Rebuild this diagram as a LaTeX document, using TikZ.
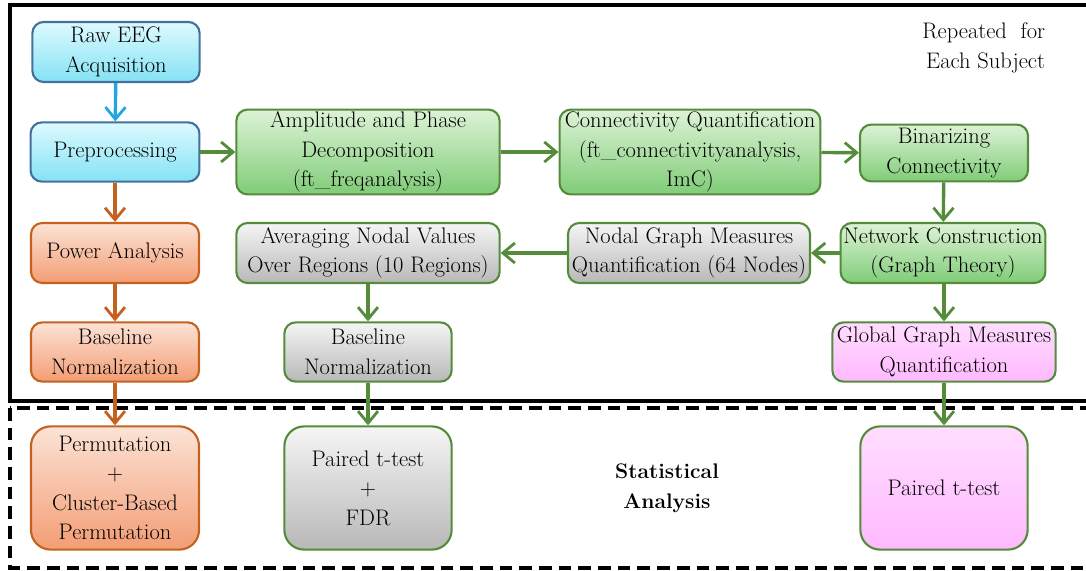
\documentclass[tikz,border=0pt]{standalone}
\usetikzlibrary{positioning,shapes,arrows.meta}

\definecolor{cyanline}{HTML}{41719C}
\definecolor{cyantop}{HTML}{DDFAFF}
\definecolor{cyanbot}{HTML}{84E2F4}
\definecolor{cyanarrow}{HTML}{22A5E0}
\definecolor{orangeline}{HTML}{C5611F}
\definecolor{orangetop}{HTML}{FCE3D6}
\definecolor{orangebot}{HTML}{F39D74}
\definecolor{greenline}{HTML}{558C3C}
\definecolor{greentop}{HTML}{DDF3D6}
\definecolor{greenbot}{HTML}{80CC78}
\definecolor{graytop}{HTML}{F5F5F5}
\definecolor{graybot}{HTML}{B8B8B8}
\definecolor{pinktop}{HTML}{FFDDFF}
\definecolor{pinkbot}{HTML}{FFB9FF}

\tikzset{
  stage/.style={draw, rounded corners=8pt, line width=1.5pt, align=center,
    inner sep=1pt, font=\fontsize{16}{21}\selectfont},
  cyanstage/.style={stage, draw=cyanline, top color=cyantop, bottom color=cyanbot},
  orangestage/.style={stage, draw=orangeline, top color=orangetop, bottom color=orangebot},
  greenstage/.style={stage, draw=greenline, top color=greentop, bottom color=greenbot},
  graystage/.style={stage, draw=greenline, top color=graytop, bottom color=graybot},
  pinkstage/.style={stage, draw=greenline, top color=pinktop, bottom color=pinkbot},
  flow/.style={line width=2.4pt, -{Straight Barb[length=3mm,width=5mm,line width=2pt]}},
}

\begin{document}
\begin{tikzpicture}[x=0.025cm, y=-0.025cm]
\useasboundingbox (0,0) rectangle (1086,571);

% frames
\draw[line width=2.2pt] (10,5) rectangle (1110,401);
\draw[line width=2.2pt, dash pattern=on 9pt off 5pt] (10,408) rectangle (1110,568);

% left column
\node[cyanstage, minimum width=4.18cm, minimum height=1.5cm] (raw) at (116,52) {Raw EEG\\Acquisition};
\node[cyanstage, minimum width=4.22cm, minimum height=1.48cm] (prep) at (115,152) {Preprocessing};
\node[orangestage, minimum width=4.2cm, minimum height=1.5cm] (power) at (115,253) {Power Analysis};
\node[orangestage, minimum width=4.2cm, minimum height=1.48cm] (basepow) at (115,352) {Baseline\\Normalization};
\node[orangestage, minimum width=4.2cm, minimum height=3.08cm, rounded corners=14pt] (perm) at (115,488) {Permutation\\+\\Cluster-Based\\Permutation};

% middle column
\node[greenstage, minimum width=6.58cm, minimum height=2.12cm] (ampl) at (368,152) {Amplitude and Phase\\Decomposition\\(ft\_freqanalysis)};
\node[graystage, minimum width=6.58cm, minimum height=1.5cm] (avg) at (368,253) {Averaging Nodal Values\\Over Regions (10 Regions)};
\node[graystage, minimum width=4.18cm, minimum height=1.48cm] (basenod) at (368,352) {Baseline\\Normalization};
\node[graystage, minimum width=4.18cm, minimum height=3.08cm, rounded corners=14pt] (ttfdr) at (368,488) {Paired t-test\\+\\FDR};

\node[greenstage, minimum width=6.52cm, minimum height=2.12cm] (conn) at (690,152) {Connectivity Quantification\\(ft\_connectivityanalysis,\\ImC)};
\node[graystage, minimum width=6.05cm, minimum height=1.5cm] (nodal) at (689,253) {Nodal Graph Measures\\Quantification (64 Nodes)};
\node[font=\fontsize{15}{21}\selectfont\bfseries, align=center] (stat) at (667,488) {Statistical\\Analysis};

% right column
\node[greenstage, minimum width=4.2cm, minimum height=1.42cm] (bin) at (944,153) {Binarizing\\Connectivity};
\node[greenstage, minimum width=5.12cm, minimum height=1.5cm] (net) at (943,253) {Network Construction\\(Graph Theory)};
\node[pinkstage, minimum width=5.58cm, minimum height=1.48cm] (global) at (944,352) {Global Graph Measures\\Quantification};
\node[pinkstage, minimum width=4.18cm, minimum height=3.08cm, rounded corners=14pt] (ttpink) at (944,488) {Paired t-test};
\node[font=\fontsize{16}{21}\selectfont, align=right, anchor=east] (repeat) at (1050,48) {Repeated\ \ for\\Each Subject};

% connectors
\draw[flow, cyanarrow] (raw) -- (prep);
\draw[flow, orangeline] (prep) -- (power);
\draw[flow, orangeline] (power) -- (basepow);
\draw[flow, orangeline] (basepow) -- (perm);
\draw[flow, greenline] (prep) -- (ampl);
\draw[flow, greenline] (ampl) -- (conn);
\draw[flow, greenline] (conn) -- (bin);
\draw[flow, greenline] (bin) -- (net);
\draw[flow, greenline] (net) -- (nodal);
\draw[flow, greenline] (nodal) -- (avg);
\draw[flow, greenline] (avg) -- (basenod);
\draw[flow, greenline] (basenod) -- (ttfdr);
\draw[flow, greenline] (net.south -| global) -- (global);
\draw[flow, greenline] (global) -- (ttpink);
\end{tikzpicture}
\end{document}
